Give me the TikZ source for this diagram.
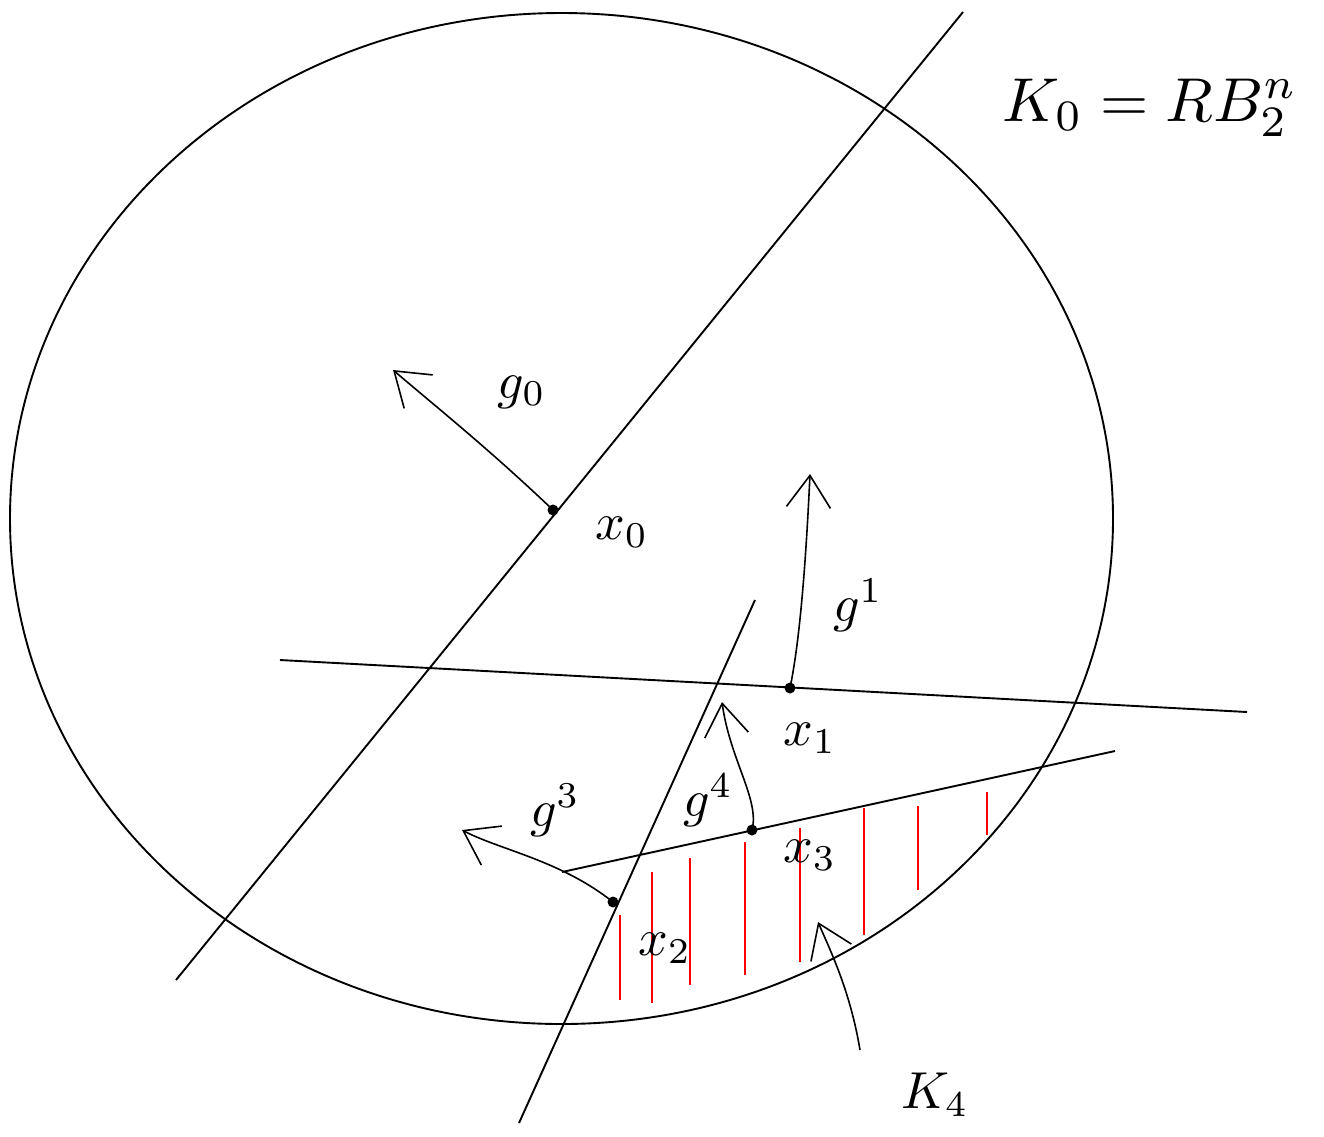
\documentclass[tikz,border=0pt]{standalone}
\usetikzlibrary{arrows.meta}
\begin{document}
\begin{tikzpicture}[x=1pt,y=-1pt,
  blk/.style={line width=1.9pt,black},
  hatch/.style={line width=1.5pt,red},
  pt/.style={circle,fill=black,inner sep=0pt,minimum size=11pt},
  vec/.style={line width=1.6pt,-{Straight Barb[length=32pt,width=44pt,line width=1.6pt]}},
  lab/.style={scale=5.2,inner sep=0pt},
  biglab/.style={scale=6.2,inner sep=0pt}]
\useasboundingbox (0,0) rectangle (1324,1136);
% ball K0
\draw[blk] (561.5,518.5) ellipse [x radius=551.5pt, y radius=505.5pt];
% red hatching (K4)
\foreach \xa/\ya/\yb in {620/915/1000, 652/872/1003, 690/858/985, 745/842/975, 800/828/962, 864/808/935, 918/806/890, 987/792/835}
  \draw[hatch] (\xa,\ya) -- (\xa,\yb);
% lines
\coordinate (l1a) at (176,980); \coordinate (l1b) at (963,12);
\coordinate (l2a) at (280,660); \coordinate (l2b) at (1247,712);
\coordinate (l3a) at (519,1123); \coordinate (l3b) at (755,600);
\coordinate (l4a) at (562,872); \coordinate (l4b) at (1115,751);
\draw[blk] (l1a) -- (l1b);
\draw[blk] (l2a) -- (l2b);
\draw[blk] (l3a) -- (l3b);
\draw[blk] (l4a) -- (l4b);
% points
\node[pt] (x0) at (553,510) {};
\node[pt] (x1) at (790,688) {};
\node[pt] (x2) at (613,902) {};
\node[pt] (x3) at (752,830) {};
% vector tips
\coordinate (t0) at (393,370);
\coordinate (t1) at (810,474);
\coordinate (t3) at (462,830);
\coordinate (t4) at (722,702);
\coordinate (k4a) at (860,1050);
\coordinate (k4b) at (818,922);
\draw[vec] (x0.center) .. controls (490,450) and (440,410) .. (t0);
\draw[vec] (x1.center) .. controls (800,640) and (806,560) .. (t1);
\draw[vec] (x2.center) .. controls (560,860) and (500,850) .. (t3);
\draw[vec] (x3.center) .. controls (760,800) and (730,760) .. (t4);
\draw[vec] (k4a) .. controls (850,990) and (830,950) .. (k4b);
% labels
\node[lab] (lg0) at (522,392) {$g_0$};
\node[lab] (lx0) at (622,532) {$x_0$};
\node[lab] (lg1) at (858,605) {$g^1$};
\node[lab] (lx1) at (810,738) {$x_1$};
\node[lab] (lg3) at (555,810) {$g^3$};
\node[lab] (lg4) at (708,800) {$g^4$};
\node[lab] (lx2) at (665,948) {$x_2$};
\node[lab] (lx3) at (810,855) {$x_3$};
\node[lab] (lk4) at (935,1095) {$K_4$};
\node[biglab] (lk0) at (1150,108) {$K_0=RB_2^n$};
\end{tikzpicture}
\end{document}
